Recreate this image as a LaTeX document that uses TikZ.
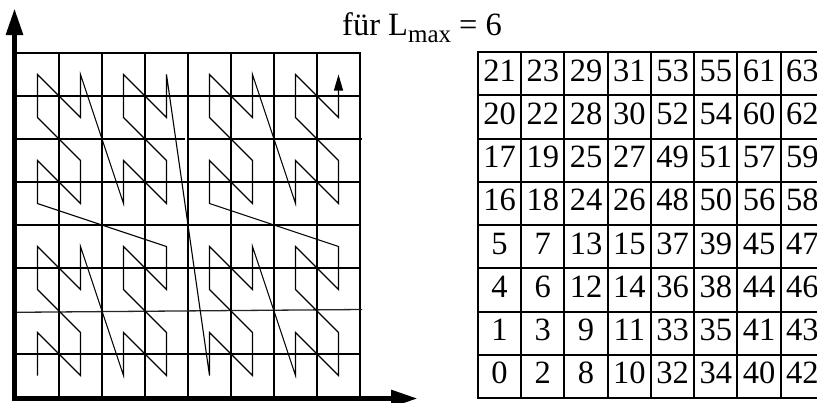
\documentclass[tikz,border=0pt]{standalone}
\usepackage{fontspec}
\setmainfont{Liberation Serif}
\usetikzlibrary{arrows.meta, calc}

\begin{document}
\begin{tikzpicture}[
    x=1pt, y=-1pt,
    every node/.style={font=\fontsize{32.5}{38}\selectfont},
    gridline/.style={line width=2.3pt, draw=black},
    thinline/.style={line width=1.3pt, draw=black!85},
    axis/.style={line width=5.5pt, -{Triangle[length=27pt, width=16pt]}},
    curve/.style={line width=1.1pt, -{Triangle[length=16pt, width=9pt]}},
    cell/.style={draw, line width=2pt, minimum width=43.25pt, minimum height=43.25pt,
                 inner sep=0pt, text height=20pt, text depth=5pt},
]
\useasboundingbox (0,0) rectangle (817,402);
\clip (0,0) rectangle (817,402);

% Grid
\foreach \i in {0,...,8}
  \draw[gridline] (16+43*\i, 53) -- (16+43*\i, 397);
\foreach \j in {0,1,3,4,5,7,8}
  \draw[gridline] (16, 53+43*\j) -- (361, 53+43*\j);
\draw[gridline] (16, 139) -- (185, 139);
\draw[gridline] (189, 139) -- (362, 139);
\draw[thinline] (16, 312.3) -- (362, 309.5);

% Cell centres and table, numbered along the curve
\foreach \c in {0,...,7}
  \foreach \r in {0,...,7} {
    \pgfmathtruncatemacro{\n}{mod(\r,2) + 2*mod(\c,2) + 4*mod(floor(\r/2),2)
      + 8*mod(floor(\c/2),2) + 16*floor(\r/4) + 32*floor(\c/4)}
    \coordinate (m\n) at (37.5+43*\c, 375.5-43*\r);
    \node[cell] (t\n) at (499.6+43.25*\c, 376.4-43.25*\r) {\n};
  }

% Curve
\draw[curve] (m0) \foreach \n in {1,...,63} { -- (m\n) };

% Axes
\draw[axis] (14.5, 401.25) -- (14.5, 8);
\draw[axis] (11.75, 398.5) -- (418, 398.5);

% Title
\node[anchor=base west, inner sep=0pt] (title) at (342, 35)
  {für L\raisebox{-7pt}{\fontsize{25}{30}\selectfont max} = 6};

\end{tikzpicture}
\end{document}
